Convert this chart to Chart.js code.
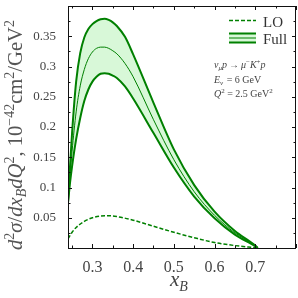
<!DOCTYPE html>
<html><head><meta charset="utf-8">
<script src="https://cdn.jsdelivr.net/npm/chart.js@4"></script>
<style>html,body{margin:0;padding:0;background:#fff}#wrap{width:298px;height:298px}</style>
</head><body><div id="wrap"><canvas id="c" width="298" height="298"></canvas></div>
<script>
// ---- data ----
const xFull       = [0.24, 0.245, 0.25, 0.26, 0.27, 0.28, 0.29, 0.30, 0.31, 0.32, 0.33, 0.34, 0.35, 0.36, 0.38, 0.40, 0.45, 0.50, 0.55, 0.60, 0.65, 0.70, 0.706];
const fullUpper   = [0.075, 0.135, 0.19, 0.275, 0.322, 0.348, 0.362, 0.370, 0.375, 0.378, 0.379, 0.377, 0.373, 0.367, 0.349, 0.320, 0.240, 0.163, 0.104, 0.060, 0.028, 0.004, 0.0];
const fullCentral = [0.075, 0.12, 0.16, 0.225, 0.268, 0.295, 0.313, 0.324, 0.330, 0.332, 0.332, 0.330, 0.326, 0.321, 0.305, 0.283, 0.212, 0.146, 0.093, 0.054, 0.025, 0.004, 0.0];
const fullLower   = [0.075, 0.108, 0.135, 0.18, 0.215, 0.243, 0.262, 0.275, 0.283, 0.288, 0.289, 0.288, 0.285, 0.281, 0.267, 0.247, 0.190, 0.133, 0.085, 0.049, 0.022, 0.003, 0.0];
const xLO         = [0.24, 0.25, 0.26, 0.28, 0.30, 0.32, 0.34, 0.36, 0.40, 0.45, 0.50, 0.55, 0.60, 0.65, 0.70];
const loValues    = [0.015, 0.026, 0.034, 0.044, 0.050, 0.053, 0.0535, 0.052, 0.046, 0.036, 0.026, 0.017, 0.009, 0.004, 0.0005];
const xTickLabels = [0.3, 0.4, 0.5, 0.6, 0.7];
const yTickLabels = [0.05, 0.1, 0.15, 0.2, 0.25, 0.3, 0.35];

const GREEN = 'rgb(0,128,0)';
const FILL = 'rgb(216,248,216)';
const SERIF = '"Liberation Serif", "DejaVu Serif", serif';
const toPts = (xs, ys) => xs.map((x, i) => ({x, y: ys[i]}));

function richWidth(ctx, segs) {
  let w = 0;
  for (const s of segs) { ctx.font = (s.it ? 'italic ' : '') + s.sz + 'px ' + SERIF; w += ctx.measureText(s.t).width + (s.gap || 0); }
  return w;
}
function drawRich(ctx, segs, x, y) {
  let cx = x;
  for (const s of segs) {
    ctx.font = (s.it ? 'italic ' : '') + s.sz + 'px ' + SERIF;
    ctx.fillText(s.t, cx, y + (s.dy || 0));
    cx += ctx.measureText(s.t).width + (s.gap || 0);
  }
}

const decor = {
  id: 'decor',
  afterDatasetsDraw(chart) {
    const {ctx, chartArea: a, scales: {x, y}} = chart;
    ctx.save();
    // frame
    ctx.strokeStyle = '#111'; ctx.lineWidth = 1;
    ctx.strokeRect(Math.round(a.left) + 0.5, Math.round(a.top) + 0.5, Math.round(a.right - a.left) - 1, Math.round(a.bottom - a.top));
    // inner ticks
    ctx.beginPath();
    for (let v = 0.25; v <= 0.8001; v += 0.05) {
      const px = Math.round(x.getPixelForValue(v)) + 0.5;
      const major = Math.abs(Math.round(v * 10) - v * 10) < 1e-6;
      const L = major ? 4 : 2.5;
      ctx.moveTo(px, a.bottom); ctx.lineTo(px, a.bottom - L);
      ctx.moveTo(px, a.top); ctx.lineTo(px, a.top + L);
    }
    for (let v = 0.025; v < 0.4; v += 0.025) {
      const py = Math.round(y.getPixelForValue(v)) + 0.5;
      const major = Math.abs(Math.round(v * 20) - v * 20) < 1e-6;
      const L = major ? 4 : 2.5;
      ctx.moveTo(a.left, py); ctx.lineTo(a.left + L, py);
      ctx.moveTo(a.right, py); ctx.lineTo(a.right - L, py);
    }
    ctx.stroke();

    // legend
    ctx.strokeStyle = GREEN;
    ctx.setLineDash([4, 2]); ctx.lineWidth = 1.5;
    ctx.beginPath(); ctx.moveTo(229, 20.5); ctx.lineTo(256, 20.5); ctx.stroke();
    ctx.setLineDash([]);
    ctx.fillStyle = FILL; ctx.fillRect(229, 33.5, 27, 9);
    ctx.lineWidth = 2;
    ctx.beginPath(); ctx.moveTo(229, 33.5); ctx.lineTo(256, 33.5); ctx.moveTo(229, 42.5); ctx.lineTo(256, 42.5); ctx.stroke();
    ctx.lineWidth = 1;
    ctx.beginPath(); ctx.moveTo(229, 38); ctx.lineTo(256, 38); ctx.stroke();
    ctx.fillStyle = '#333'; ctx.textAlign = 'left'; ctx.textBaseline = 'alphabetic';
    ctx.font = '15px ' + SERIF;
    ctx.fillText('LO', 263, 26.5);
    ctx.fillText('Full', 263, 43.5);

    // annotation
    ctx.fillStyle = '#444';
    drawRich(ctx, [
      {t: 'ν', it: 1, sz: 10}, {t: 'μ', it: 1, sz: 7, dy: 2}, {t: 'p', it: 1, sz: 10, gap: 2},
      {t: '→', sz: 10, gap: 2}, {t: 'μ', it: 1, sz: 10}, {t: '−', sz: 7, dy: -4},
      {t: 'K', it: 1, sz: 10}, {t: '+', sz: 7, dy: -4}, {t: 'p', it: 1, sz: 10}
    ], 214, 68);
    drawRich(ctx, [
      {t: 'E', it: 1, sz: 10}, {t: 'ν', it: 1, sz: 7, dy: 2, gap: 1}, {t: ' = 6 GeV', sz: 10}
    ], 214, 82.5);
    drawRich(ctx, [
      {t: 'Q', it: 1, sz: 10}, {t: '2', sz: 7, dy: -4}, {t: ' = 2.5 GeV', sz: 10}, {t: '2', sz: 7, dy: -4}
    ], 214, 96.5);

    // x axis title
    ctx.fillStyle = '#444';
    drawRich(ctx, [{t: 'x', it: 1, sz: 21}, {t: 'B', it: 1, sz: 14, dy: 5}], 170, 286);

    // y axis title (rotated)
    const base = 15;
    const mk = (k) => [
      {t: 'd', it: 1, sz: base*k}, {t: '2', sz: base*k*0.68, dy: -6*k}, {t: 'σ', it: 1, sz: base*k},
      {t: '/', sz: base*k}, {t: 'dx', it: 1, sz: base*k}, {t: 'B', it: 1, sz: base*k*0.68, dy: 3*k},
      {t: 'dQ', it: 1, sz: base*k}, {t: '2', sz: base*k*0.68, dy: -6*k}, {t: ', 10', sz: base*k},
      {t: '−42', sz: base*k*0.68, dy: -6*k}, {t: 'cm', sz: base*k}, {t: '2', sz: base*k*0.68, dy: -6*k},
      {t: '/GeV', sz: base*k}, {t: '2', sz: base*k*0.68, dy: -6*k}
    ];
    const w1 = richWidth(ctx, mk(1));
    const k = 230 / w1;
    const segs = mk(k);
    ctx.fillStyle = '#555';
    ctx.translate(22, 135);
    ctx.rotate(-Math.PI / 2);
    drawRich(ctx, segs, -richWidth(ctx, segs) / 2, 0);
    ctx.restore();
  }
};

new Chart(document.getElementById('c'), {
  type: 'line',
  data: {
    datasets: [
      {data: toPts(xFull, fullUpper), borderColor: GREEN, borderWidth: 2, backgroundColor: FILL, fill: '+2', pointRadius: 0, cubicInterpolationMode: 'monotone'},
      {data: toPts(xFull, fullCentral), borderColor: GREEN, borderWidth: 1, fill: false, pointRadius: 0, cubicInterpolationMode: 'monotone'},
      {data: toPts(xFull, fullLower), borderColor: GREEN, borderWidth: 2, fill: false, pointRadius: 0, cubicInterpolationMode: 'monotone'},
      {data: toPts(xLO, loValues), borderColor: GREEN, borderWidth: 1.5, borderDash: [4, 2], fill: false, pointRadius: 0, cubicInterpolationMode: 'monotone'}
    ]
  },
  options: {
    responsive: false, animation: false,
    layout: {padding: {top: 6, right: 2, left: 0, bottom: 0}},
    plugins: {legend: {display: false}, tooltip: {enabled: false}, filler: {drawTime: 'beforeDatasetsDraw'}},
    scales: {
      x: {
        type: 'linear', min: 0.24, max: 0.8,
        grid: {display: false}, border: {display: false},
        afterBuildTicks: s => { s.ticks = xTickLabels.map(v => ({value: v})); },
        afterFit: s => { s.height = 50; s.paddingLeft = 0; s.paddingRight = 0; },
        ticks: {color: '#444', font: {family: SERIF, size: 16}, padding: 2, maxRotation: 0, callback: v => String(v)}
      },
      y: {
        type: 'linear', min: 0, max: 0.4,
        grid: {display: false}, border: {display: false},
        afterBuildTicks: s => { s.ticks = yTickLabels.map(v => ({value: v})); },
        afterFit: s => { s.width = 68; s.paddingTop = 0; s.paddingBottom = 0; },
        ticks: {color: '#444', font: {family: SERIF, size: 13}, padding: 4, callback: v => String(v)}
      }
    }
  },
  plugins: [decor]
});
</script>
</body></html>
